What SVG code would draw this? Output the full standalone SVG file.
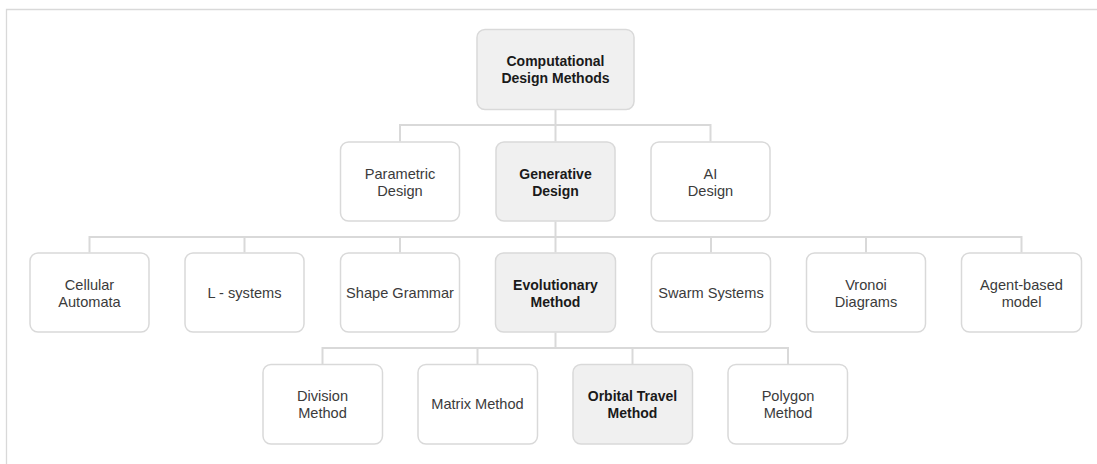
<svg xmlns="http://www.w3.org/2000/svg" width="1097" height="464" viewBox="0 0 1097 464">
<style>
.frame{fill:none;stroke:#d9d9d9;stroke-width:1.3}
.box{fill:#ffffff;stroke:#d9d9d9;stroke-width:1.5}
.hl{fill:#f0f0f0;stroke:#d9d9d9;stroke-width:1.5}
.conn{fill:none;stroke:#d9d9d9;stroke-width:2}
text{font-family:"Liberation Sans",Arial,sans-serif;text-anchor:middle}
.t{font-size:14.6px;fill:#3b3b3b}
.b{font-size:14px;font-weight:bold;fill:#1a1a1a}
</style>
<rect width="1097" height="464" fill="#ffffff"/>
<path class="frame" d="M6.5,464 V9.5 H1097"/>
<g id="connectors">
<path class="conn" d="M555.5,109.5 V125 M400,141.5 V125 H710.5 V141.5 M555.5,125 V141.5"/>
<path class="conn" d="M555.5,221.5 V237 M89.5,252.5 V237 H1021.5 V252.5 M244.5,237 V252.5 M400,237 V252.5 M555.5,237 V252.5 M711,237 V252.5 M866,237 V252.5"/>
<path class="conn" d="M555.5,332.5 V348 M322.5,364 V348 H788 V364 M477.5,348 V364 M632.5,348 V364"/>
</g>
<g id="n-computational"><rect class="hl" x="477" y="29.5" width="157" height="80" rx="8"/><text class="b" x="555.5" y="66">Computational</text><text class="b" x="555.5" y="83">Design Methods</text></g>
<g id="n-parametric"><rect class="box" x="340.5" y="142" width="119" height="79" rx="8"/><text class="t" x="400" y="178.5">Parametric</text><text class="t" x="400" y="195.5">Design</text></g>
<g id="n-generative"><rect class="hl" x="496" y="142" width="119" height="79" rx="8"/><text class="b" x="555.5" y="178.5">Generative</text><text class="b" x="555.5" y="195.5">Design</text></g>
<g id="n-ai"><rect class="box" x="651" y="142" width="119" height="79" rx="8"/><text class="t" x="710.5" y="178.5">AI</text><text class="t" x="710.5" y="195.5">Design</text></g>
<g id="n-cellular"><rect class="box" x="30" y="253" width="119" height="79" rx="8"/><text class="t" x="89.5" y="289.5">Cellular</text><text class="t" x="89.5" y="306.5">Automata</text></g>
<g id="n-lsystems"><rect class="box" x="185" y="253" width="119" height="79" rx="8"/><text class="t" x="244.5" y="297.5">L - systems</text></g>
<g id="n-shape"><rect class="box" x="340.5" y="253" width="119" height="79" rx="8"/><text class="t" x="400" y="297.5">Shape Grammar</text></g>
<g id="n-evolutionary"><rect class="hl" x="495.5" y="253" width="120" height="79" rx="8"/><text class="b" x="555.5" y="289.5">Evolutionary</text><text class="b" x="555.5" y="306.5">Method</text></g>
<g id="n-swarm"><rect class="box" x="651.5" y="253" width="119" height="79" rx="8"/><text class="t" x="711" y="297.5">Swarm Systems</text></g>
<g id="n-vronoi"><rect class="box" x="806.5" y="253" width="119" height="79" rx="8"/><text class="t" x="866" y="289.5">Vronoi</text><text class="t" x="866" y="306.5">Diagrams</text></g>
<g id="n-agent"><rect class="box" x="961.5" y="253" width="120" height="79" rx="8"/><text class="t" x="1021.5" y="289.5">Agent-based</text><text class="t" x="1021.5" y="306.5">model</text></g>
<g id="n-division"><rect class="box" x="263" y="364.5" width="119.5" height="79.5" rx="8"/><text class="t" x="322.5" y="400.8">Division</text><text class="t" x="322.5" y="417.8">Method</text></g>
<g id="n-matrix"><rect class="box" x="418" y="364.5" width="119.5" height="79.5" rx="8"/><text class="t" x="477.5" y="409">Matrix Method</text></g>
<g id="n-orbital"><rect class="hl" x="573" y="364.5" width="119.5" height="79.5" rx="8"/><text class="b" x="632.5" y="400.8">Orbital Travel</text><text class="b" x="632.5" y="417.8">Method</text></g>
<g id="n-polygon"><rect class="box" x="728" y="364.5" width="119.5" height="79.5" rx="8"/><text class="t" x="788" y="400.8">Polygon</text><text class="t" x="788" y="417.8">Method</text></g>
</svg>
